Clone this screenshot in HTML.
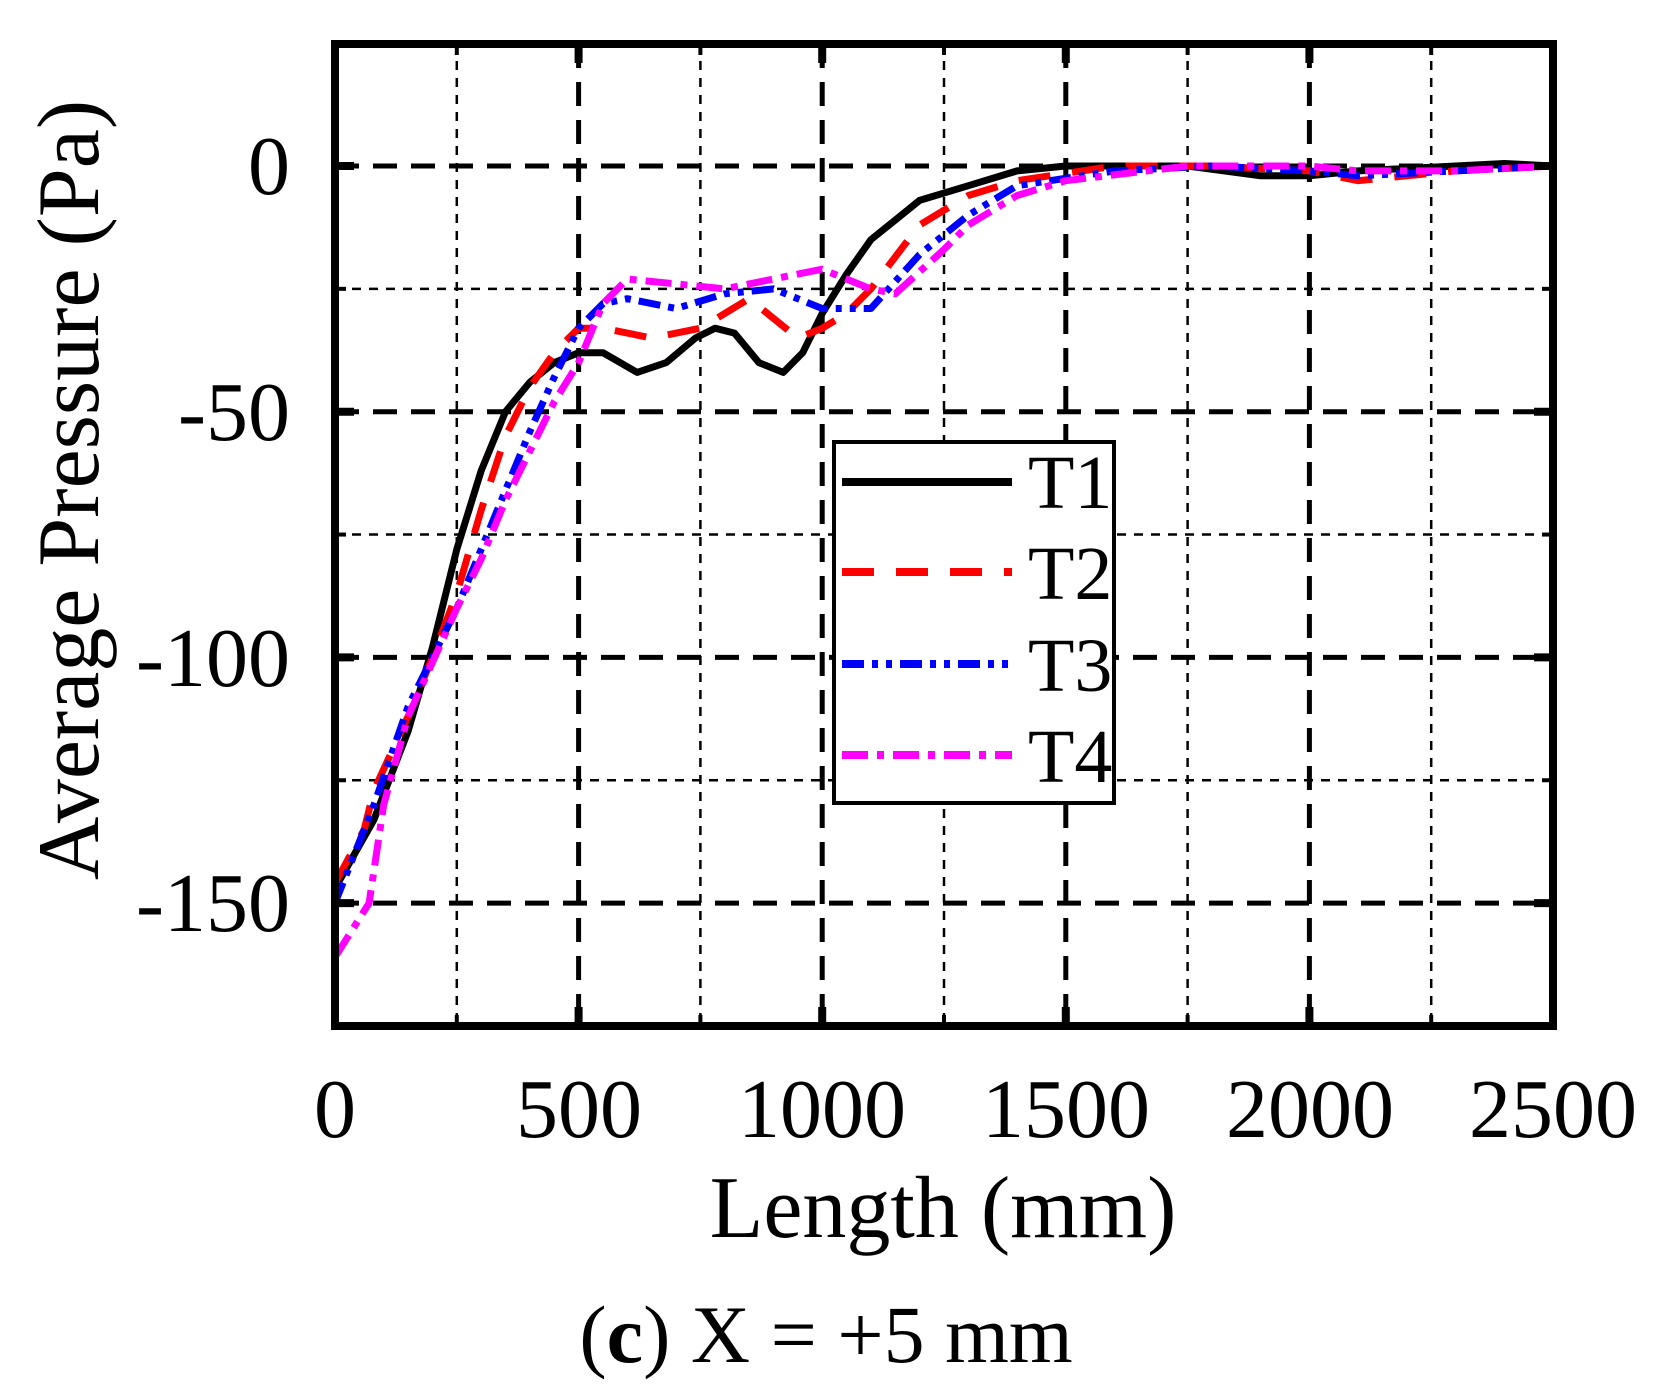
<!DOCTYPE html>
<html><head><meta charset="utf-8"><style>
body{margin:0;background:#fff;}
svg{display:block;font-family:"Liberation Serif",serif;}
</style></head><body>
<svg id="s" width="1653" height="1391" viewBox="0 0 1653 1391">
<rect width="1653" height="1391" fill="#fff"/>
<g id="grid"></g>
<g id="series" fill="none" stroke-width="7" stroke-linejoin="round"></g>
<rect x="335" y="44" width="1218" height="982" fill="none" stroke="#000" stroke-width="8"/>
<g id="ticks"></g>
<g font-size="84" fill="#000" text-anchor="end">
<text x="290" y="194">0</text>
<text x="290" y="440">-50</text>
<text x="290" y="686">-100</text>
<text x="290" y="931">-150</text>
</g>
<g font-size="84" fill="#000" text-anchor="middle">
<text x="335" y="1137">0</text>
<text x="579" y="1137">500</text>
<text x="822" y="1137">1000</text>
<text x="1066" y="1137">1500</text>
<text x="1310" y="1137">2000</text>
<text x="1553" y="1137">2500</text>
</g>
<text x="943" y="1237" font-size="88" text-anchor="middle">Length (mm)</text>
<text transform="translate(98,490) rotate(-90)" font-size="88" text-anchor="middle">Average Pressure (Pa)</text>
<text x="826" y="1362" font-size="82" text-anchor="middle">(<tspan font-weight="bold">c</tspan>) X = +5 mm</text>
<rect x="834" y="442" width="280" height="361" fill="#fff" stroke="#000" stroke-width="4"/>
<g stroke-width="8" fill="none">
<line x1="842" y1="482" x2="1012" y2="482" stroke="#000"/>
<line x1="842" y1="572" x2="1012" y2="572" stroke="#f00" stroke-dasharray="32,22"/>
<line x1="842" y1="664" x2="1012" y2="664" stroke="#00f" stroke-dasharray="22,8,6,8,6,8"/>
<line x1="842" y1="755" x2="1012" y2="755" stroke="#f0f" stroke-dasharray="26,9,7,9"/>
</g>
<g font-size="76" fill="#000">
<text x="1028" y="508">T1</text><text x="1028" y="599">T2</text>
<text x="1028" y="691">T3</text><text x="1028" y="782">T4</text>
</g>
</svg>
<script>
var X=function(x){return 335+x*0.4872},Y=function(p){return 166-p*4.914};
var ns="http://www.w3.org/2000/svg";
function el(p,t,a){var e=document.createElementNS(ns,t);for(var k in a)e.setAttribute(k,a[k]);p.appendChild(e);return e;}
var g=document.getElementById('grid'),tk=document.getElementById('ticks');
for(var p=0;p>=-150;p-=25){var maj=p%50==0;el(g,'line',{x1:335,x2:1553,y1:Y(p),y2:Y(p),stroke:'#000','stroke-width':maj?5:2.5,'stroke-dasharray':maj?'24,14':'9,8'});
el(tk,'line',{x1:335,x2:maj?354:346,y1:Y(p),y2:Y(p),stroke:'#000','stroke-width':maj?8:4});el(tk,'line',{x1:1553,x2:maj?1534:1542,y1:Y(p),y2:Y(p),stroke:'#000','stroke-width':maj?8:4});}
for(var x=250;x<2500;x+=250){var maj=x%500==0;el(g,'line',{x1:X(x),x2:X(x),y1:44,y2:1026,stroke:'#000','stroke-width':maj?5:2.5,'stroke-dasharray':maj?'24,14':'9,8'});
el(tk,'line',{x1:X(x),x2:X(x),y1:1026,y2:maj?1007:1015,stroke:'#000','stroke-width':maj?8:4});el(tk,'line',{x1:X(x),x2:X(x),y1:44,y2:maj?63:55,stroke:'#000','stroke-width':maj?8:4});}
var S=[
['#000','',[[0,-147],[80,-133],[150,-115],[200,-98],[250,-78],[300,-62],[350,-50],[400,-44],[450,-40],[500,-38],[550,-38],[620,-42],[680,-40],[740,-35],[780,-33],[820,-34],[870,-40],[920,-42],[960,-38],[1000,-30],[1050,-22],[1100,-15],[1200,-7],[1300,-4],[1400,-1],[1500,0],[1750,0],[1900,-2],[2000,-2],[2100,-1],[2300,0],[2400,0.5],[2500,0]]],
['#f00','32,22',[[0,-146],[60,-135],[80,-127],[150,-112],[200,-100],[250,-87],[300,-70],[350,-55],[400,-45],[450,-38],[500,-33],[550,-33],[650,-35],[750,-33],[850,-27],[950,-35],[1000,-33],[1050,-30],[1100,-25],[1200,-12],[1300,-6],[1400,-3],[1600,0],[1800,0],[2000,-1],[2100,-3],[2300,-1],[2500,0]]],
['#00f','22,8,6,8,6,8',[[0,-150],[80,-130],[150,-110],[250,-90],[300,-78],[350,-66],[400,-54],[450,-43],[500,-33],[550,-28],[600,-27],[700,-29],[800,-26],[900,-25],[1000,-29],[1100,-29],[1200,-18],[1300,-10],[1400,-4],[1600,-1],[1800,0],[2000,-1],[2100,-2],[2300,-1],[2500,0]]],
['#f0f','26,9,7,9',[[0,-161],[70,-150],[100,-130],[150,-112],[250,-90],[300,-80],[350,-68],[400,-58],[450,-48],[500,-40],[550,-28],[600,-23],[700,-24],[800,-25],[900,-23],[1000,-21],[1100,-25],[1150,-26],[1250,-17],[1300,-12],[1400,-6],[1500,-3],[1750,0],[2000,0],[2100,-1],[2300,-1],[2500,0]]]];
var sg=document.getElementById('series');
S.forEach(function(s){var d=s[2].map(function(q,i){return (i?'L':'M')+X(q[0]).toFixed(1)+','+Y(q[1]).toFixed(1)}).join('');
var a={d:d,stroke:s[0]};if(s[1])a['stroke-dasharray']=s[1];el(sg,'path',a);});
</script>
</body></html>
